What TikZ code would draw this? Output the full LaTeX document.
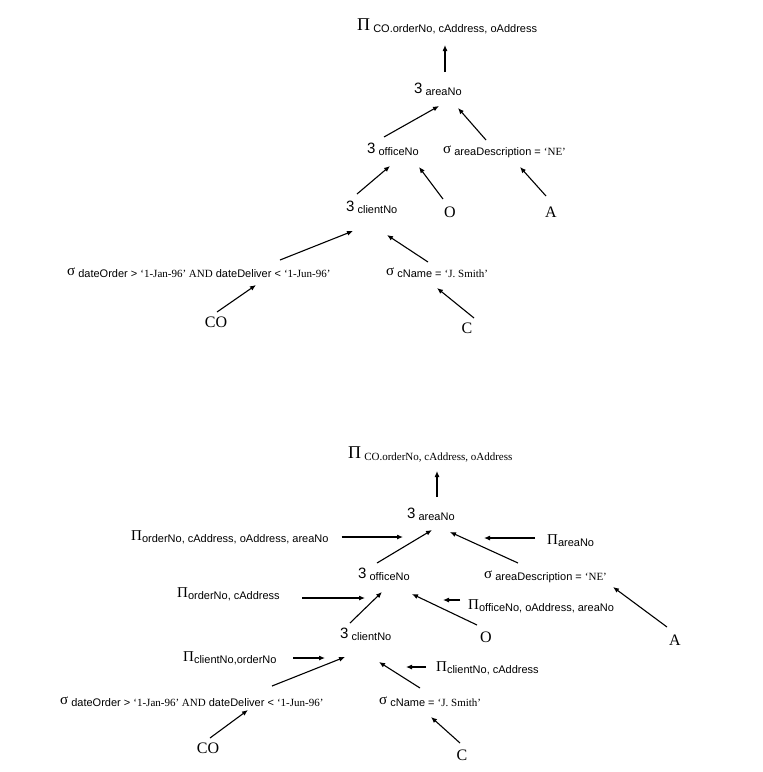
\documentclass[tikz,border=0pt]{standalone}
\usepackage{fontspec}
\setmainfont{Liberation Serif}
\newfontfamily\arial{Liberation Sans}
\usetikzlibrary{arrows.meta}

\newcommand\prj{{\rmfamily\fontsize{18}{18}\selectfont Π}}
\newcommand\prs{{\rmfamily\fontsize{15}{15}\selectfont Π}}
\newcommand\sel{{\rmfamily\fontsize{15}{15}\selectfont σ}}
\newcommand\jn{{\arial\fontsize{15}{15}\selectfont 3}}
\newcommand\low[1]{\raisebox{-2pt}{#1}}

\tikzset{
  op/.style={anchor=west, inner sep=0pt, font=\arial\fontsize{11}{13}\selectfont},
  pr/.style={anchor=west, inner sep=0pt, font=\arial\fontsize{11}{13}\selectfont},
  rel/.style={inner sep=0pt, font=\fontsize{16}{18}\selectfont},
  arr/.style={-{Latex[length=6pt,width=5pt]}, line width=1.1pt}
}

\begin{document}
\begin{tikzpicture}[x=1pt, y=-1pt]
  \useasboundingbox (0,0) rectangle (763,772);

  % first tree
  \node[op] (pA) at (357,26) {\prj\ \low{CO.orderNo, cAddress, oAddress}};
  \node[op] (j3) at (414,89) {\jn\ \low{areaNo}};
  \node[op] (j2) at (367,149) {\jn\ \low{officeNo}};
  \node[op] (s3) at (443,152) {\sel\ \low{areaDescription = {\rmfamily ‘NE’}}};
  \node[op] (j1) at (346,207) {\jn\ \low{clientNo}};
  \node[rel] (O) at (450,212) {O};
  \node[rel] (A) at (551,212) {A};
  \node[op] (s1) at (67,273) {\sel\ \low{dateOrder > {\rmfamily ‘1-Jan-96’ AND} dateDeliver < {\rmfamily ‘1-Jun-96’}}};
  \node[op] (s2) at (386,273) {\sel\ \low{cName = {\rmfamily ‘J. Smith’}}};
  \node[rel] (CO) at (216,322) {CO};
  \node[rel] (C) at (467,328) {C};

  \draw[arr] ([shift={(31,-17)}]j3.west) -- ([shift={(88,19)}]pA.west);
  \draw[arr] ([shift={(17,-12)}]j2.west) -- ([shift={(25,17)}]j3.west);
  \draw[arr] ([shift={(43,-12)}]s3.west) -- ([shift={(44,19)}]j3.west);
  \draw[arr] ([shift={(11,-13)}]j1.west) -- ([shift={(23,17)}]j2.west);
  \draw[arr] ([shift={(-7,-13)}]O.center) -- ([shift={(52,18)}]j2.west);
  \draw[arr] ([shift={(-5,-16)}]A.center) -- ([shift={(77,15)}]s3.west);
  \draw[arr] ([shift={(213,-13)}]s1.west) -- ([shift={(7,24)}]j1.west);
  \draw[arr] ([shift={(42,-11)}]s2.west) -- ([shift={(41,28)}]j1.west);
  \draw[arr] ([shift={(1,-10)}]CO.center) -- ([shift={(189,12)}]s1.west);
  \draw[arr] ([shift={(7,-10)}]C.center) -- ([shift={(51,15)}]s2.west);

  % second tree, with the projections pushed down
  \node[op] (pB) at (348,454) {\prj\ \low{\rmfamily\fontsize{11}{13}\selectfont CO.orderNo, cAddress, oAddress}};
  \node[op] (jb3) at (407,514) {\jn\ \low{areaNo}};
  \node[pr] (ptop) at (131,537) {\prs\low{orderNo, cAddress, oAddress, areaNo}};
  \node[pr] (parea) at (547,541) {\prs\low{areaNo}};
  \node[op] (jb2) at (358,574) {\jn\ \low{officeNo}};
  \node[op] (sb3) at (484,577) {\sel\ \low{areaDescription = {\rmfamily ‘NE’}}};
  \node[pr] (poff) at (177,594) {\prs\low{orderNo, cAddress}};
  \node[pr] (poffice) at (468,606) {\prs\low{officeNo, oAddress, areaNo}};
  \node[op] (jb1) at (340,634) {\jn\ \low{clientNo}};
  \node[rel] (Ob) at (486,637) {O};
  \node[rel] (Ab) at (675,640) {A};
  \node[pr] (pcl) at (183,658) {\prs\low{clientNo,orderNo}};
  \node[pr] (pcc) at (436,668) {\prs\low{clientNo, cAddress}};
  \node[op] (sb1) at (60,702) {\sel\ \low{dateOrder > {\rmfamily ‘1-Jan-96’ AND} dateDeliver < {\rmfamily ‘1-Jun-96’}}};
  \node[op] (sb2) at (379,702) {\sel\ \low{cName = {\rmfamily ‘J. Smith’}}};
  \node[rel] (COb) at (208,748) {CO};
  \node[rel] (Cb) at (462,755) {C};

  \draw[arr] ([shift={(30,-17)}]jb3.west) -- ([shift={(89,17)}]pB.west);
  \draw[arr] ([xshift=13pt]ptop.east) -- ([shift={(-4,23)}]jb3.west);
  \draw[arr] ([shift={(-12,-3)}]parea.west) -- ([shift={(77,24)}]jb3.west);
  \draw[arr] ([shift={(19,-11)}]jb2.west) -- ([shift={(25,16)}]jb3.west);
  \draw[arr] ([shift={(34,-14)}]sb3.west) -- ([shift={(43,18)}]jb3.west);
  \draw[arr] ([shift={(125,4)}]poff.west) -- ([shift={(7,24)}]jb2.west);
  \draw[arr] ([shift={(10,-11)}]jb1.west) -- ([shift={(24,18)}]jb2.west);
  \draw[arr] ([shift={(-9,-12)}]Ob.center) -- ([shift={(54,20)}]jb2.west);
  \draw[arr] ([shift={(-8,-6)}]poffice.west) -- ([shift={(85,26)}]jb2.west);
  \draw[arr] ([shift={(-8,-13)}]Ab.center) -- ([shift={(129,10)}]sb3.west);
  \draw[arr] ([shift={(110,0)}]pcl.west) -- ([shift={(-15,24)}]jb1.west);
  \draw[arr] ([shift={(212,-16)}]sb1.west) -- ([shift={(5,23)}]jb1.west);
  \draw[arr] ([shift={(41,-14)}]sb2.west) -- ([shift={(39,28)}]jb1.west);
  \draw[arr] ([shift={(-10,-1)}]pcc.west) -- ([shift={(66,33)}]jb1.west);
  \draw[arr] ([shift={(2,-10)}]COb.center) -- ([shift={(188,8)}]sb1.west);
  \draw[arr] ([shift={(-2,-12)}]Cb.center) -- ([shift={(52,15)}]sb2.west);
\end{tikzpicture}
\end{document}
